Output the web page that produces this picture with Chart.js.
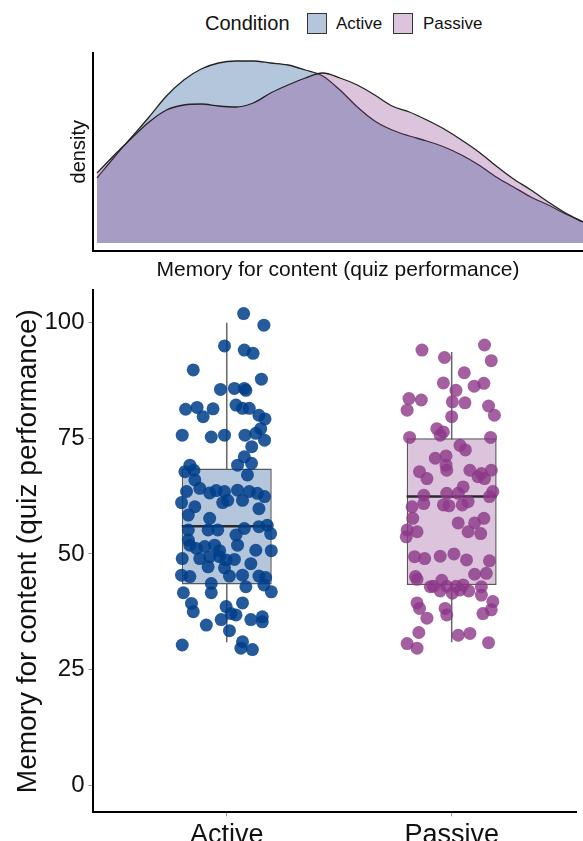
<!DOCTYPE html>
<html lang="en">
<head>
<meta charset="UTF-8">
<meta name="viewport" content="width=device-width, initial-scale=1.0">
<title>Memory for content by condition</title>
<script src="https://cdn.jsdelivr.net/npm/chart.js"></script>
<style>
html, body {
    margin: 0;
    padding: 0;
    background: #fff;
}
body {
    width: 583px;
    height: 841px;
    position: relative;
    overflow: hidden;
    font-family: "Liberation Sans", Arial, sans-serif;
    color: #111;
}
#densityChart { position: absolute; left: 0; top: 0; }
#boxChart { position: absolute; left: 0; top: 280px; }
.legend span { position: absolute; white-space: nowrap; }
.legend .title { left: 205px; top: 11px; font-size: 20px; line-height: 24px; }
.legend .key { top: 13px; width: 18px; height: 19px; border: 1px solid #333; }
.legend .lab { top: 13px; font-size: 17px; line-height: 21px; }
</style>
</head>
<body>

<div class="legend">
    <span class="title">Condition</span>
    <span class="key" style="left:307px; background:rgb(179,198,220);"></span>
    <span class="lab" style="left:336px;">Active</span>
    <span class="key" style="left:393px; background:rgb(220,196,220);"></span>
    <span class="lab" style="left:423px;">Passive</span>
</div>

<canvas id="densityChart" width="583" height="285"></canvas>
<canvas id="boxChart" width="583" height="561"></canvas>

<script>
// density curves
const densityScores = [30, 32.5, 35, 37.5, 40, 42.5, 45, 47.5, 50, 52.5, 55, 57.5, 60, 62.5, 65,
    67.5, 70, 72.5, 75, 77.5, 80, 82.5, 85, 87.5, 90, 92.5, 95, 97.5, 100];
const activeDensity = [0.0065, 0.0086, 0.0106, 0.0126, 0.0147, 0.0163, 0.0174, 0.0180, 0.0182, 0.0182,
    0.0180, 0.0178, 0.0173, 0.0167, 0.0153, 0.0136, 0.0122, 0.0113, 0.0107, 0.0102,
    0.0096, 0.0088, 0.0078, 0.0066, 0.0056, 0.0046, 0.0038, 0.0029, 0.0021];
const passiveDensity = [0.0070, 0.0088, 0.0105, 0.0121, 0.0133, 0.0138, 0.0139, 0.0137, 0.0136, 0.0140,
    0.0150, 0.0158, 0.0165, 0.0170, 0.0165, 0.0158, 0.0148, 0.0137, 0.0131, 0.0123,
    0.0114, 0.0103, 0.0091, 0.0077, 0.0064, 0.0053, 0.0041, 0.0030, 0.0021];

// box plot summaries
const categories = ['Active', 'Passive'];
const boxLow = [30.9, 30.9];
const boxQ1 = [43.4, 43.3];
const boxMedian = [56.0, 62.4];
const boxQ3 = [68.5, 75.0];
const boxHigh = [100.0, 93.7];
const yTicks = [0, 25, 50, 75, 100];

// jittered points (horizontal offset from the category, quiz score)
const activeJitter = [0.075, 0.165, -0.010, 0.078, 0.117, -0.149, 0.154, -0.028, 0.034, 0.078,
    0.085, -0.183, -0.132, -0.061, -0.105, 0.041, 0.070, 0.100, 0.143, 0.170,
    -0.198, -0.069, -0.010, 0.081, 0.129, 0.151, 0.168, 0.111, 0.078, 0.048,
    0.110, -0.164, -0.186, -0.146, 0.092, -0.142, -0.179, -0.120, -0.076, -0.047,
    -0.010, 0.048, 0.100, 0.136, 0.168, -0.201, -0.142, -0.018, 0.070, 0.143,
    -0.076, -0.171, -0.083, -0.040, 0.041, 0.078, 0.143, 0.180, 0.195, -0.171,
    -0.135, -0.098, -0.054, 0.048, 0.129, 0.198, -0.198, -0.120, -0.076, -0.032,
    -0.003, 0.034, 0.107, -0.201, -0.164, 0.012, 0.070, 0.143, 0.173, -0.069,
    0.085, -0.193, -0.069, 0.198, 0.165, -0.157, 0.070, -0.149, -0.003, 0.019,
    -0.025, 0.041, -0.091, 0.107, 0.158, 0.158, 0.012, -0.198, 0.070, 0.063,
    0.114, -0.010, -0.083, -0.171, 0.004, -0.164, -0.032];
const activeScores = [102.0, 99.5, 95.0, 94.1, 93.4, 89.8, 87.8, 85.6, 85.8, 85.8,
    85.4, 81.3, 81.7, 81.4, 79.7, 82.2, 81.5, 81.5, 80.0, 79.2,
    75.7, 75.3, 75.7, 75.7, 76.1, 77.1, 74.6, 73.2, 71.0, 69.2,
    69.6, 69.2, 67.8, 68.1, 67.1, 66.0, 63.5, 64.2, 63.2, 63.7,
    63.5, 63.8, 63.5, 63.1, 62.4, 61.1, 60.2, 61.1, 61.6, 59.8,
    57.7, 55.2, 55.2, 55.2, 54.1, 55.5, 55.9, 56.2, 54.4, 53.0,
    51.2, 51.6, 51.9, 51.9, 50.8, 50.7, 49.0, 49.0, 49.4, 49.4,
    48.7, 48.8, 47.9, 45.4, 45.1, 45.2, 45.4, 45.2, 44.9, 43.6,
    42.9, 41.6, 41.6, 41.8, 43.3, 39.3, 39.4, 37.5, 38.6, 37.1,
    35.8, 36.8, 34.6, 35.8, 36.4, 35.3, 33.4, 30.3, 31.0, 29.6,
    29.3, 47.0, 47.2, 58.4, 61.6, 51.9, 50.7];
const passiveJitter = [-0.132, -0.032, 0.146, 0.176, 0.056, -0.037, 0.019, 0.100, 0.143, -0.190,
    -0.135, -0.198, 0.003, 0.059, 0.164, 0.190, 0.000, -0.066, -0.051, -0.037,
    -0.187, 0.173, 0.037, 0.061, -0.073, -0.025, -0.025, -0.022, -0.143, -0.110,
    0.081, 0.117, 0.146, 0.176, 0.132, 0.051, -0.022, 0.029, -0.124, 0.183,
    0.168, -0.176, -0.124, -0.037, -0.012, 0.047, 0.073, -0.173, 0.029, 0.102,
    0.143, -0.198, -0.202, -0.154, 0.073, 0.129, -0.165, -0.120, -0.051, 0.010,
    0.066, 0.168, 0.102, 0.154, -0.161, -0.154, -0.081, -0.044, -0.051, -0.022,
    0.019, 0.037, 0.051, 0.076, 0.132, 0.132, -0.154, -0.143, 0.183, 0.176,
    -0.029, -0.022, -0.110, 0.139, -0.146, 0.029, 0.081, -0.198, -0.154, 0.164,
    0.003, -0.095];
const passiveScores = [94.1, 92.5, 95.2, 91.8, 89.2, 87.0, 85.4, 86.3, 86.9, 83.6,
    83.3, 81.1, 82.9, 82.7, 82.0, 80.0, 79.7, 77.1, 75.7, 76.4,
    75.2, 75.2, 73.5, 72.5, 70.7, 71.2, 69.2, 68.1, 67.8, 66.3,
    68.1, 66.7, 66.3, 68.1, 67.4, 64.5, 63.1, 63.1, 62.7, 63.5,
    62.4, 60.2, 60.9, 60.6, 60.4, 60.6, 61.3, 57.7, 56.7, 56.7,
    57.7, 55.2, 53.7, 54.8, 54.8, 54.4, 49.4, 49.0, 49.5, 50.0,
    48.7, 48.5, 45.6, 45.8, 45.1, 44.5, 43.0, 44.3, 42.0, 43.0,
    43.0, 42.2, 43.3, 42.0, 42.9, 41.1, 39.4, 38.2, 39.7, 37.9,
    38.2, 36.8, 36.1, 37.1, 33.0, 32.4, 32.8, 30.6, 29.6, 30.8,
    41.5, 42.9];

const FONT = "'Liberation Sans', Arial, sans-serif";
const boxFill = ['rgb(179,198,220)', 'rgb(220,197,220)'];
const boxHalf = 0.2; // half box width in category units

const axisBorder = { display: true, color: '#000', width: 2 };

// keep the plot panel where it is, labels may hang over the edges
function noPadding(scale) {
    scale.paddingTop = 0;
    scale.paddingBottom = 0;
    scale.paddingLeft = 0;
    scale.paddingRight = 0;
}

// ---- top panel: density ----
new Chart(document.getElementById('densityChart'), {
    type: 'line',
    data: {
        datasets: [{
            label: 'Active',
            data: densityScores.map((s, i) => ({ x: s, y: activeDensity[i] })),
            fill: 'origin',
            backgroundColor: 'rgb(179,198,220)',
            borderColor: '#222',
            borderWidth: 1.3,
            pointRadius: 0,
            cubicInterpolationMode: 'monotone',
            order: 2
        }, {
            label: 'Passive',
            data: densityScores.map((s, i) => ({ x: s, y: passiveDensity[i] })),
            fill: 'origin',
            backgroundColor: 'rgba(140,58,138,0.3)',
            borderColor: '#222',
            borderWidth: 1.3,
            pointRadius: 0,
            cubicInterpolationMode: 'monotone',
            order: 1
        }]
    },
    options: {
        responsive: false,
        animation: false,
        layout: { padding: { top: 52.7, left: 0, right: 0, bottom: 0 } },
        plugins: { legend: { display: false }, tooltip: { enabled: false } },
        scales: {
            x: {
                type: 'linear',
                min: 29.42,
                max: 100,
                ticks: { display: false },
                grid: { display: false },
                border: axisBorder,
                title: {
                    display: true,
                    text: 'Memory for content (quiz performance)',
                    color: '#111',
                    font: { family: FONT, size: 21 },
                    padding: { top: 0, bottom: 2.4 }
                },
                afterFit(scale) { scale.height = 34.3; noPadding(scale); }
            },
            y: {
                min: -0.00077,
                max: 0.01903,
                ticks: { display: false },
                grid: { display: false },
                border: axisBorder,
                title: {
                    display: true,
                    text: 'density',
                    color: '#111',
                    font: { family: FONT, size: 20 },
                    padding: { top: 67, bottom: 0 }
                },
                afterFit(scale) { scale.width = 93; noPadding(scale); }
            }
        }
    }
});

// ---- bottom panel: box plots with jittered points ----
const datasets = [];
categories.forEach((cat, i) => {
    datasets.push({
        type: 'line',
        label: cat + ' whisker',
        data: [{ x: i + 1, y: boxLow[i] }, { x: i + 1, y: boxHigh[i] }],
        borderColor: '#666',
        borderWidth: 1.5,
        pointRadius: 0,
        order: 4
    });
    datasets.push({
        type: 'line',
        label: cat + ' median',
        data: [{ x: i + 1 - boxHalf, y: boxMedian[i] }, { x: i + 1 + boxHalf, y: boxMedian[i] }],
        borderColor: '#2a2a2a',
        borderWidth: 2.5,
        pointRadius: 0,
        order: 2
    });
});
datasets.push({
    type: 'bar',
    label: 'box',
    data: categories.map((c, i) => ({ x: i + 1, y: [boxQ1[i], boxQ3[i]] })),
    backgroundColor: boxFill,
    borderColor: '#5a5a5a',
    borderWidth: 1.5,
    borderSkipped: false,
    categoryPercentage: 1,
    barPercentage: boxHalf * 2,
    order: 3
});
datasets.push({
    type: 'scatter',
    label: 'Active',
    data: activeScores.map((v, i) => ({ x: 1 + activeJitter[i], y: v })),
    backgroundColor: 'rgba(0,62,137,0.85)',
    borderWidth: 0,
    pointRadius: 6.5,
    order: 1
});
datasets.push({
    type: 'scatter',
    label: 'Passive',
    data: passiveScores.map((v, i) => ({ x: 2 + passiveJitter[i], y: v })),
    backgroundColor: 'rgba(140,55,136,0.8)',
    borderWidth: 0,
    pointRadius: 6.5,
    order: 1
});

new Chart(document.getElementById('boxChart'), {
    type: 'scatter',
    data: { datasets: datasets },
    options: {
        responsive: false,
        animation: false,
        layout: { padding: { top: 10, left: 0, right: 0, bottom: 0 } },
        plugins: { legend: { display: false }, tooltip: { enabled: false } },
        scales: {
            x: {
                type: 'linear',
                min: 0.403,
                max: 2.555,
                offset: false,
                afterBuildTicks(scale) {
                    scale.ticks = categories.map((c, i) => ({ value: i + 1 }));
                },
                ticks: {
                    color: '#111',
                    font: { family: FONT, size: 27 },
                    padding: 3,
                    maxRotation: 0,
                    autoSkip: false,
                    callback: (v) => categories[Math.round(v) - 1]
                },
                grid: { display: true, offset: false, drawOnChartArea: false, tickLength: 4, color: '#999' },
                border: axisBorder,
                afterFit(scale) { scale.height = 28.7; noPadding(scale); }
            },
            y: {
                min: -5.9,
                max: 107.1,
                afterBuildTicks(scale) {
                    scale.ticks = yTicks.map(v => ({ value: v }));
                },
                ticks: {
                    color: '#111',
                    font: { family: FONT, size: 24 },
                    padding: 4
                },
                grid: { display: true, offset: false, drawOnChartArea: false, tickLength: 4, color: '#999' },
                border: axisBorder,
                title: {
                    display: true,
                    text: 'Memory for content (quiz performance)',
                    color: '#111',
                    font: { family: FONT, size: 28 },
                    padding: { top: 11, bottom: 0 }
                },
                afterFit(scale) { scale.width = 92.5; noPadding(scale); }
            }
        }
    }
});
</script>

</body>
</html>
